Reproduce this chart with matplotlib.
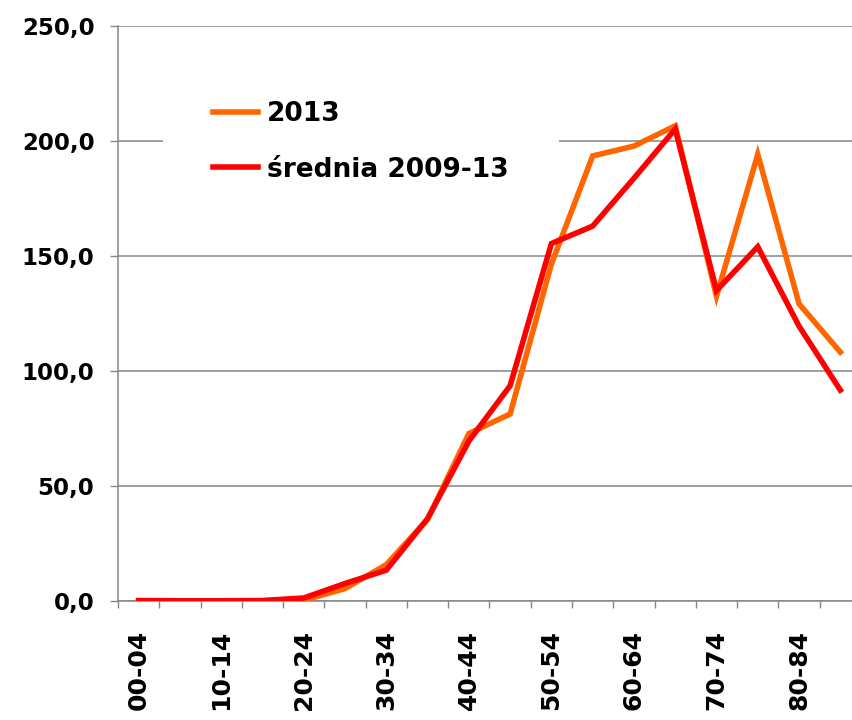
"""
Zachorowania wg grup wieku: rok 2013 na tle sredniej z lat 2009-13.
"""

from __future__ import annotations

from pathlib import Path

import matplotlib

matplotlib.use("Agg")
import matplotlib.pyplot as plt
from matplotlib.ticker import FixedLocator, FuncFormatter

AGE_GROUPS = [
    "00-04", "05-09", "10-14", "15-19", "20-24", "25-29", "30-34", "35-39", "40-44",
    "45-49", "50-54", "55-59", "60-64", "65-69", "70-74", "75-79", "80-84", "85+",
]
RATE_2013 = [0.0, 0.0, 0.0, 0.1, 0.3, 5.4, 15.8, 35.5, 72.8,
             81.3, 146.5, 193.5, 197.8, 206.6, 132.5, 194.2, 129.2, 108.2]
RATE_AVG = [0.2, 0.1, 0.1, 0.2, 1.3, 7.6, 13.4, 35.8, 69.5,
            93.6, 155.4, 163.0, 183.8, 205.2, 135.0, 154.0, 119.5, 91.7]
SERIES_LABELS = ["2013", "średnia 2009-13"]
Y_TICKS = [0, 50, 100, 150, 200, 250]

GRID = "#868686"
FONT = "DejaVu Sans"


def plot_rates(out_path: str | Path) -> Path:
    out_path = Path(out_path)

    plt.rcParams["font.family"] = FONT
    plt.rcParams["font.weight"] = "bold"

    fig = plt.figure(figsize=(8.52, 7.2), dpi=100)
    # obszar wykresu wychodzi poza prawa krawedz (jak w oryginalnym raporcie)
    ax = fig.add_axes([0.1385, 0.1653, 0.872, 0.7986])

    x = list(range(len(AGE_GROUPS)))
    ax.plot(x, RATE_2013, color="#FF6600", linewidth=4.0, label=SERIES_LABELS[0],
            solid_joinstyle="miter", zorder=3)
    ax.plot(x, RATE_AVG, color="#FF0000", linewidth=4.0, label=SERIES_LABELS[1],
            solid_joinstyle="miter", zorder=4)

    ax.set_xlim(-0.5, len(AGE_GROUPS) - 0.5)
    ax.set_ylim(Y_TICKS[0], Y_TICKS[-1])

    # etykiety co druga grupa, kreski na granicach grup
    ax.xaxis.set_major_locator(FixedLocator(x[::2]))
    ax.set_xticklabels(AGE_GROUPS[::2], rotation=90, fontsize=18, fontweight="bold")
    ax.xaxis.set_minor_locator(FixedLocator([i - 0.5 for i in range(len(AGE_GROUPS) + 1)]))
    ax.tick_params(axis="x", which="major", length=0, pad=21)
    ax.tick_params(axis="x", which="minor", length=5, width=1, color=GRID)

    ax.set_yticks(Y_TICKS)
    ax.yaxis.set_major_formatter(FuncFormatter(lambda v, _: f"{v:.1f}".replace(".", ",")))
    ax.tick_params(axis="y", length=6, width=1, color=GRID, pad=11, labelsize=16.5)
    for lab in ax.get_yticklabels():
        lab.set_fontweight("bold")

    ax.grid(True, axis="y", color=GRID, linewidth=1.1)
    ax.set_axisbelow(True)
    for side in ("top", "right"):
        ax.spines[side].set_visible(False)
    for side in ("left", "bottom"):
        ax.spines[side].set_color(GRID)
        ax.spines[side].set_linewidth(1.1)

    leg = ax.legend(
        loc="upper left",
        bbox_to_anchor=(0.0606, 0.9565),
        borderaxespad=0,
        frameon=True,
        fancybox=False,
        facecolor="white",
        edgecolor="none",
        framealpha=1,
        handlelength=1.7,
        handletextpad=0.34,
        labelspacing=1.12,
        borderpad=1.9,
        prop={"weight": "bold", "size": 19},
    )
    leg.set_zorder(5)

    fig.savefig(out_path, dpi=100)
    plt.close(fig)
    return out_path


if __name__ == "__main__":
    plot_rates("out.png")
